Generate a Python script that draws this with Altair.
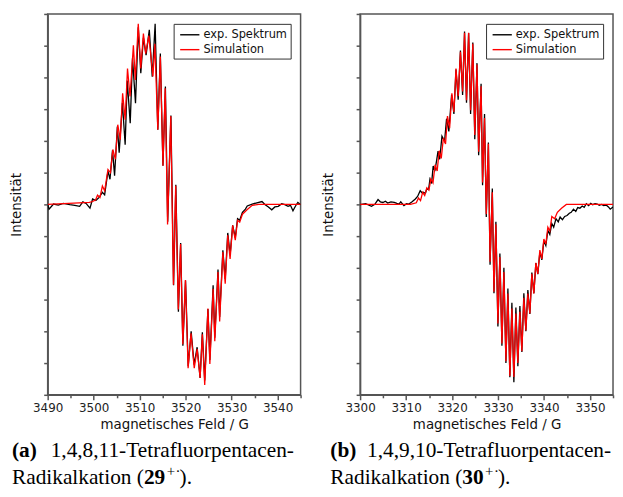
import altair as alt
import pandas as pd

series_names = ["exp. Spektrum", "Simulation"]
series_colors = ["#000000", "#ff0000"]

# ---------- Panel (a): 1,4,8,11-Tetrafluorpentacen-Radikalkation ----------
a_sim_field = [3490.0, 3499.07, 3499.77, 3500.41, 3500.84, 3501.37, 3501.90, 3502.39, 3503.11, 3503.66,
               3504.17, 3504.73, 3505.24, 3505.79, 3506.30, 3506.85, 3507.36, 3507.91, 3508.64, 3509.06,
               3509.70, 3510.25, 3510.82, 3511.31, 3511.99, 3512.89, 3513.31, 3513.95, 3514.50, 3515.07,
               3515.56, 3516.07, 3516.77, 3517.35, 3517.84, 3518.41, 3518.90, 3519.39, 3519.96, 3520.54,
               3521.17, 3521.87, 3522.51, 3523.15, 3523.64, 3524.15, 3524.85, 3525.27, 3525.98, 3526.34,
               3527.04, 3527.40, 3528.10, 3528.61, 3529.16, 3529.67, 3530.23, 3530.80, 3531.29, 3531.76,
               3532.35, 3533.41, 3534.48, 3535.90, 3545.0]
a_sim_int = [0.0, 0.06, 0.09, 0.14, 0.29, 0.22, 0.58, 0.43, 1.10, 1.00,
             1.73, 1.42, 2.51, 2.04, 3.50, 2.67, 4.28, 3.40, 5.01, 3.92,
             5.69, 4.28, 5.38, 4.75, 5.32, 4.03, 5.06, 2.35, 4.66, 1.22,
             3.66, -0.63, 2.78, -2.53, 0.59, -3.31, -1.25, -4.41, -2.38, -5.16,
             -4.06, -5.16, -4.56, -5.47, -4.09, -5.69, -3.28, -5.03, -2.66, -4.31,
             -2.13, -3.69, -1.50, -2.50, -0.97, -1.72, -0.66, -1.13, -0.50, -0.56,
             -0.31, -0.16, -0.03, 0.0, 0.0]

a_exp_field = [3490.0, 3490.3, 3491.27, 3492.3, 3493.4, 3494.8, 3495.9, 3496.95, 3497.65, 3498.35,
               3499.2, 3499.77, 3500.48, 3501.2, 3501.9, 3502.39, 3503.11, 3503.55, 3504.10, 3504.55,
               3505.15, 3505.55, 3506.25, 3506.85, 3507.30, 3507.95, 3508.45, 3509.10, 3509.70, 3510.25,
               3510.82, 3511.40, 3512.10, 3512.74, 3513.37, 3513.95, 3514.50, 3515.07, 3515.60, 3516.10,
               3516.80, 3517.38, 3517.87, 3518.43, 3518.92, 3519.40, 3519.98, 3520.56, 3521.20, 3521.85,
               3522.50, 3523.15, 3523.64, 3524.15, 3524.85, 3525.27, 3525.98, 3526.34, 3527.04, 3527.40,
               3528.10, 3528.61, 3529.16, 3529.67, 3530.23, 3530.80, 3531.29, 3531.76, 3532.35, 3533.00,
               3533.40, 3534.48, 3535.5, 3536.6, 3537.3, 3538.0, 3538.73, 3539.4, 3540.15, 3540.9,
               3541.57, 3542.27, 3542.8, 3543.34, 3543.9, 3544.4, 3545.0]
a_exp_int = [0.0, -0.15, 0.01, -0.02, 0.03, -0.01, -0.03, -0.06, 0.08, 0.03,
             -0.12, 0.17, 0.12, 0.22, 0.38, 0.30, 1.05, 0.79, 1.70, 0.90,
             2.45, 1.63, 3.20, 1.88, 3.90, 2.56, 4.60, 3.19, 5.58, 4.13,
             5.25, 4.70, 5.50, 4.02, 5.69, 2.35, 4.75, 1.22, 3.71, -0.55,
             2.80, -2.55, 0.62, -3.38, -1.22, -4.45, -2.40, -5.10, -4.00, -5.05,
             -4.50, -5.47, -4.03, -5.55, -3.30, -4.90, -2.55, -4.20, -2.05, -3.55,
             -1.45, -2.35, -0.90, -1.60, -0.66, -1.05, -0.45, -0.50, -0.25, -0.15,
             -0.05, 0.01, 0.05, 0.09, -0.01, -0.08, -0.17, -0.08, -0.06, 0.02,
             -0.01, -0.06, -0.03, -0.20, -0.05, 0.06, -0.01]

# ---------- Panel (b): 1,4,9,10-Tetrafluorpentacen-Radikalkation ----------
b_sim_field = [3300.0, 3310.95, 3312.22, 3312.70, 3313.14, 3313.60, 3314.05, 3314.51, 3314.96, 3315.40,
               3315.85, 3316.31, 3316.76, 3317.20, 3317.65, 3318.11, 3318.58, 3319.00, 3319.47, 3319.96,
               3320.40, 3320.85, 3321.33, 3321.82, 3322.29, 3322.71, 3323.14, 3323.60, 3324.03, 3324.51,
               3324.94, 3325.42, 3325.78, 3326.31, 3326.63, 3327.06, 3327.44, 3327.90, 3328.26, 3328.75,
               3329.11, 3329.53, 3329.97, 3330.40, 3330.84, 3331.27, 3331.71, 3332.14, 3332.57, 3333.01,
               3333.44, 3333.88, 3334.31, 3334.75, 3335.18, 3335.61, 3336.05, 3336.48, 3336.92, 3337.35,
               3337.79, 3338.22, 3338.65, 3339.09, 3339.52, 3339.96, 3340.39, 3340.83, 3341.26, 3341.69,
               3342.3, 3342.9, 3343.8, 3344.85, 3355.0]
b_sim_int = [0.0, 0.0, 0.05, 0.20, 0.12, 0.38, 0.28, 0.52, 0.45, 0.80,
             0.68, 1.25, 1.05, 1.69, 1.45, 2.09, 1.90, 2.78, 2.40, 3.50,
             2.91, 4.28, 3.41, 4.81, 3.56, 5.41, 3.28, 5.41, 2.97, 5.06,
             2.19, 4.41, 1.66, 3.72, 0.69, 2.72, -0.31, 1.91, -1.81, 0.38,
             -2.75, -0.63, -3.75, -1.66, -4.38, -2.13, -4.94, -2.81, -5.41, -3.28,
             -5.44, -3.44, -5.00, -3.38, -4.63, -2.94, -3.97, -2.81, -3.44, -2.19,
             -2.81, -1.84, -2.19, -1.44, -1.72, -1.09, -1.25, -0.72, -0.84, -0.38,
             -0.45, -0.25, -0.12, 0.0, 0.0]

b_exp_field = [3300.0, 3301.2, 3302.48, 3303.2, 3303.9, 3304.4, 3304.96, 3305.5, 3306.0, 3306.7,
               3307.42, 3308.0, 3308.47, 3308.84, 3309.53, 3310.1, 3310.6, 3311.31, 3312.01, 3312.5,
               3313.07, 3313.5, 3313.77, 3314.2, 3314.49, 3314.9, 3315.19, 3315.55, 3315.89, 3316.25,
               3316.6, 3316.95, 3317.31, 3317.80, 3318.37, 3318.80, 3319.30, 3319.90, 3320.40, 3320.85,
               3321.33, 3321.82, 3322.29, 3322.71, 3323.14, 3323.60, 3324.03, 3324.51, 3324.94, 3325.42,
               3325.78, 3326.31, 3326.63, 3327.06, 3327.44, 3327.90, 3328.26, 3328.75, 3329.11, 3329.53,
               3329.97, 3330.40, 3330.84, 3331.27, 3331.71, 3332.14, 3332.57, 3333.01, 3333.44, 3333.88,
               3334.31, 3334.75, 3335.18, 3335.61, 3336.05, 3336.48, 3336.92, 3337.35, 3337.79, 3338.22,
               3338.65, 3339.09, 3339.52, 3339.96, 3340.39, 3340.83, 3341.26, 3341.69, 3342.1, 3342.6,
               3343.09, 3343.5, 3344.0, 3344.49, 3345.0, 3345.5, 3345.91, 3346.4, 3346.9, 3347.33,
               3347.8, 3348.3, 3348.73, 3349.2, 3349.7, 3350.15, 3350.6, 3351.1, 3351.57, 3352.0,
               3352.5, 3352.97, 3353.5, 3354.0, 3354.39, 3355.0]
b_exp_int = [-0.01, 0.02, -0.06, 0.0, 0.15, 0.08, 0.06, 0.10, 0.04, 0.08,
             0.06, 0.03, 0.01, 0.08, -0.04, 0.02, 0.01, 0.08, 0.17, 0.25,
             0.43, 0.36, 0.38, 0.35, 0.48, 0.47, 0.79, 0.66, 1.21, 1.05,
             1.35, 1.68, 1.42, 2.15, 1.99, 2.70, 2.30, 3.45, 2.85, 4.25,
             3.30, 4.85, 3.45, 5.45, 3.20, 5.40, 2.85, 5.10, 2.05, 4.45,
             1.55, 3.80, 0.60, 2.85, -0.40, 1.95, -1.90, 0.50, -2.80, -0.55,
             -3.85, -1.55, -4.45, -2.00, -5.00, -2.65, -5.45, -3.10, -5.60, -3.25,
             -5.10, -3.20, -4.65, -2.80, -4.00, -2.70, -3.45, -2.15, -2.80, -1.85,
             -2.20, -1.50, -1.75, -1.15, -1.30, -0.82, -0.95, -0.60, -0.72, -0.45,
             -0.55, -0.40, -0.48, -0.38, -0.35, -0.28, -0.25, -0.15, -0.22, -0.10,
             -0.12, -0.05, -0.09, 0.02, -0.04, 0.03, -0.01, 0.02, 0.01, -0.03,
             0.0, -0.04, -0.02, -0.08, -0.15, -0.08]

y_ticks = list(range(-6, 7))

AX = "#555555"
SANS = "DejaVu Sans"
SERIF = "Liberation Serif"
W, H = 255, 384
CAP = 21.5


def caption_text(txt, x, y, bold=False, size=CAP):
    return alt.Chart(pd.DataFrame({"t": [txt]})).mark_text(
        align="left", baseline="alphabetic", font=SERIF, fontSize=size,
        fontWeight="bold" if bold else "normal", color="#000000"
    ).encode(x=alt.value(x), y=alt.value(y), text="t:N")


def panel(sim_f, sim_i, exp_f, exp_i, xmin, xmax, letter, name, num, x0, gap):
    df_exp = pd.DataFrame({"field": exp_f, "intens": exp_i, "series": series_names[0]})
    df_sim = pd.DataFrame({"field": sim_f, "intens": sim_i, "series": series_names[1]})
    xenc = alt.X(
        "field:Q",
        scale=alt.Scale(domain=[xmin, xmax], nice=False, zero=False),
        axis=alt.Axis(
            values=list(range(xmin, xmax + 1, 5)),
            labelExpr="datum.value % 10 == 0 ? datum.label : ''",
            tickSize={"condition": {"test": "datum.value % 10 == 0", "value": 5}, "value": 3},
            format="d", title="magnetisches Feld / G", labelPadding=3, titlePadding=4,
            labelFlush=False,
        ),
    )
    yenc = alt.Y(
        "intens:Q",
        scale=alt.Scale(domain=[-6, 6], nice=False),
        axis=alt.Axis(values=y_ticks, labels=False, tickSize=4, title="Intensität", titlePadding=20),
    )
    col = alt.Color(
        "series:N",
        scale=alt.Scale(domain=series_names, range=series_colors),
        legend=alt.Legend(
            title=None, orient="top-right", offset=10, strokeColor="#333333",
            fillColor="white", padding=3, rowPadding=1,
            symbolType="M-0.63,0L2.14,0", symbolSize=196,
            symbolStrokeWidth=1.4, labelFont=SANS, labelFontSize=11.5,
            labelColor="#111111", labelOffset=11,
        ),
    )
    exp_line = alt.Chart(df_exp).mark_line(strokeWidth=1.3, clip=True).encode(x=xenc, y=yenc, color=col)
    sim_line = alt.Chart(df_sim).mark_line(strokeWidth=1.3, clip=True).encode(x=xenc, y=yenc, color=col)
    caps = [
        caption_text(f"({letter})", x0, 447, bold=True),
        caption_text(name, x0 + gap, 447),
        caption_text("Radikalkation (", x0, 474),
        caption_text(num, x0 + 133, 474, bold=True),
        caption_text("+", x0 + 156, 466, size=15),
        caption_text("\u00b7", x0 + 165, 466, size=15),
        caption_text(").", x0 + 169, 474),
    ]
    return alt.layer(exp_line, sim_line, *caps).properties(width=W, height=H)


pa = panel(a_sim_field, a_sim_int, a_exp_field, a_exp_int, 3490, 3545, "a",
           "1,4,8,11-Tetrafluorpentacen-", "29", -36, 39)
pb = panel(b_sim_field, b_sim_int, b_exp_field, b_exp_int, 3300, 3355, "b",
           "1,4,9,10-Tetrafluorpentacen-", "30", -30, 37)

chart = alt.hconcat(pa, pb, spacing=60, bounds="flush").resolve_scale(
    color="independent", x="independent"
).resolve_legend(color="independent").properties(
    padding={"left": 0, "top": 2, "right": 0, "bottom": 0}
).configure_view(stroke=AX, strokeWidth=1.5).configure_axis(
    domainColor=AX, domainWidth=1.5, tickColor=AX, tickWidth=1.5,
    labelFont=SANS, labelFontSize=12, labelColor="#222222",
    titleFont=SANS, titleFontSize=13.5, titleFontWeight="normal", titleColor="#111111",
    grid=False,
)

chart.save("out.html", embed_options={"renderer": "svg", "actions": False})
